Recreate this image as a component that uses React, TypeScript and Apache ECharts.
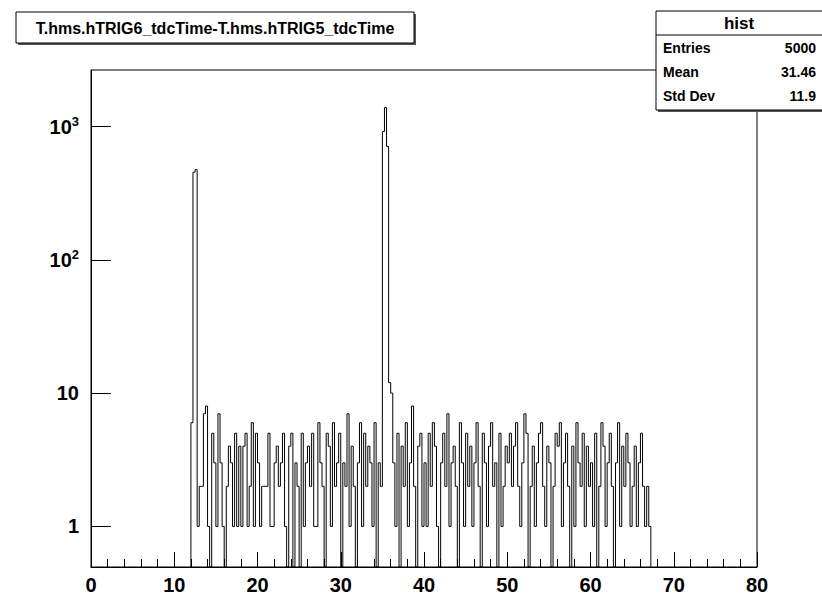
import React, { useRef, useEffect } from 'react'
import * as echarts from 'echarts'

const binStart = 12.0
const binWidth = 0.25
// counts per bin, starting at x = 12.0
const counts = [
  6, 455, 475,
  1, 2, 2, 7, 8, 1, 0, 5, 3, 1, 7, 3, 1, 0, 2, 4, 3, 1, 5, 1,
  4, 1, 4, 5, 1, 2, 6, 1, 5, 3, 1, 2, 2, 2, 5, 1, 1, 3, 4, 2,
  3, 5, 1, 0, 4, 5, 0, 3, 2, 0, 5, 1, 3, 4, 2, 5, 1, 1, 6, 3,
  2, 0, 5, 4, 1, 6, 2, 3, 5, 0, 3, 2, 7, 1, 4, 2, 0, 3, 6, 1,
  5, 2, 4, 3, 1, 6, 0, 3, 2,
  920, 1390, 710, 12, 10,
  3, 1, 5, 0, 4, 2, 6, 1, 3, 8, 2, 0, 4, 5, 1,
  3, 1, 5, 2, 6, 4, 1, 0, 3, 5, 2, 7, 1, 3, 4, 2, 0, 6, 3, 1,
  5, 2, 4, 1, 3, 6, 2, 0, 5, 3, 1, 4, 6, 2, 3, 0, 5, 1, 2, 4,
  3, 5, 2, 4, 6, 2, 1, 3, 7, 5, 0, 2, 4, 1, 3, 5, 6, 2, 1, 4,
  3, 0, 2, 5, 4, 6, 1, 3, 5, 2, 0, 4, 1, 6, 3, 2, 5, 1, 4, 2,
  3, 1, 5, 0, 2, 6, 4, 1, 3, 5, 2, 0, 3, 6, 1, 4, 2, 5, 3, 1,
  2, 4, 1, 3, 5, 2, 1, 2, 1
]
const titleText = 'T.hms.hTRIG6_tdcTime-T.hms.hTRIG5_tdcTime'
const statLabels = ['Entries', 'Mean', 'Std Dev']
const statValues = ['5000', '31.46', '11.9']

const yMin = 0.496
const yMax = 2660
const font = '"Liberation Sans", Arial, sans-serif'

const App: React.FC = () => {
  const chartRef = useRef<HTMLDivElement>(null)

  useEffect(() => {
    document.body.style.margin = '0'
    if (!chartRef.current) return
    const chart = echarts.init(chartRef.current, null, { renderer: 'svg' })

    const points: number[][] = [[binStart, yMin]]
    counts.forEach((c, i) => points.push([binStart + i * binWidth, Math.max(c, yMin)]))
    points.push([binStart + counts.length * binWidth, yMin])

    const statRows = statLabels.flatMap((l, i) => [
      { type: 'text', left: 663, top: 41 + i * 24, style: { text: l, font: `bold 14px ${font}`, fill: '#000' } },
      { type: 'text', right: 6, top: 41 + i * 24, style: { text: statValues[i], font: `bold 14px ${font}`, fill: '#000' } }
    ])

    chart.setOption({
      animation: false,
      backgroundColor: '#fff',
      grid: { left: 91, top: 70, width: 666, height: 497, show: true, borderColor: '#000', borderWidth: 1 },
      xAxis: {
        type: 'value', min: 0, max: 80, interval: 10,
        axisLine: { lineStyle: { color: '#000' } },
        axisTick: { inside: true, length: 15, lineStyle: { color: '#000' } },
        minorTick: { show: true, splitNumber: 5, length: 8, lineStyle: { color: '#000' } },
        splitLine: { show: false },
        axisLabel: { color: '#000', fontFamily: font, fontWeight: 'bold', fontSize: 20, margin: 8 }
      },
      yAxis: {
        type: 'log', min: yMin, max: yMax, logBase: 10,
        axisLine: { lineStyle: { color: '#000' } },
        axisTick: { inside: true, length: 20, lineStyle: { color: '#000' } },
        splitLine: { show: false },
        axisLabel: {
          color: '#000', fontFamily: font, fontWeight: 'bold', fontSize: 20, margin: 12,
          showMinLabel: false, showMaxLabel: false,
          formatter: (v: number) => {
            const e = Math.round(Math.log10(v))
            if (e === 0) return '1'
            if (e === 1) return '10'
            return `10{sup|${e}}`
          },
          rich: { sup: { fontSize: 13, fontWeight: 'bold', fontFamily: font, color: '#000', verticalAlign: 'top', padding: [0, 0, 10, 0] } }
        }
      },
      series: [{
        type: 'line', step: 'end', data: points, symbol: 'none',
        lineStyle: { color: '#000', width: 1 }
      }],
      graphic: [
        { type: 'rect', shape: { x: 18, y: 14, width: 398, height: 31 }, style: { fill: '#555' } },
        { type: 'rect', shape: { x: 16, y: 12, width: 398, height: 31 }, style: { fill: '#fff', stroke: '#000', lineWidth: 1 } },
        { type: 'text', x: 215, y: 28, style: { text: titleText, font: `bold 16px ${font}`, fill: '#000', align: 'center', verticalAlign: 'middle' } },
        { type: 'rect', shape: { x: 658, y: 13, width: 170, height: 99 }, style: { fill: '#555' } },
        { type: 'rect', shape: { x: 656, y: 11, width: 170, height: 99 }, style: { fill: '#fff', stroke: '#000', lineWidth: 1 } },
        { type: 'line', shape: { x1: 656, y1: 35, x2: 822, y2: 35 }, style: { stroke: '#000', lineWidth: 1 } },
        { type: 'text', x: 739, y: 23, style: { text: 'hist', font: `bold 17px ${font}`, fill: '#000', align: 'center', verticalAlign: 'middle' } },
        ...statRows
      ]
    })
    return () => chart.dispose()
  }, [])

  return <div ref={chartRef} style={{ width: 822, height: 599 }} />
}

export default App
